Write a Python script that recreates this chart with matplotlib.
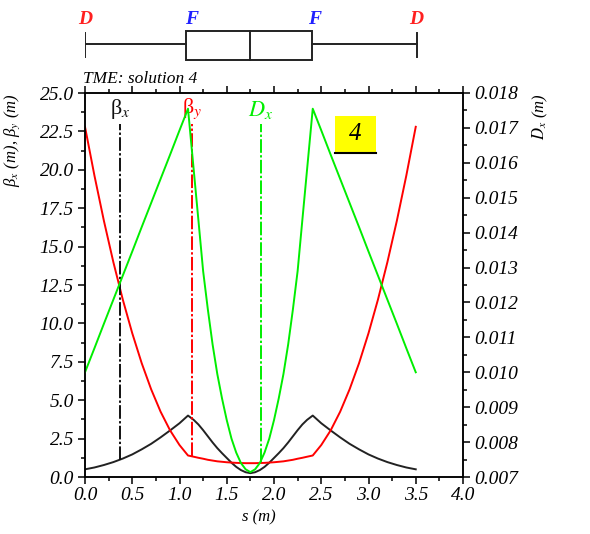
import matplotlib
matplotlib.use("Agg")
import matplotlib.pyplot as plt
from matplotlib.patches import Rectangle
from matplotlib.ticker import MultipleLocator, FormatStrFormatter

plt.rcParams["mathtext.fontset"] = "stix"
plt.rcParams["font.family"] = "Liberation Serif"
plt.rcParams["font.style"] = "italic"
plt.rcParams["font.size"] = 12

# --------------------------------------------------
# Data
# --------------------------------------------------
s = [0.0, 0.1, 0.2, 0.3, 0.4, 0.5, 0.6, 0.7, 0.8, 0.9, 1.0, 1.09,
     1.15, 1.2, 1.25, 1.3, 1.35, 1.4, 1.45, 1.5, 1.55, 1.6, 1.65, 1.7,
     1.75,
     1.8, 1.85, 1.9, 1.95, 2.0, 2.05, 2.1, 2.15, 2.2, 2.25, 2.3, 2.35,
     2.41, 2.5, 2.6, 2.7, 2.8, 2.9, 3.0, 3.1, 3.2, 3.3, 3.4, 3.5]

beta_x = [0.50, 0.62, 0.78, 0.97, 1.20, 1.47, 1.80, 2.16, 2.58, 3.03, 3.50, 4.00,
          3.72, 3.42, 3.05, 2.65, 2.25, 1.88, 1.55, 1.24, 0.93, 0.66, 0.45, 0.31,
          0.25,
          0.31, 0.45, 0.66, 0.93, 1.24, 1.55, 1.88, 2.25, 2.65, 3.05, 3.42, 3.72,
          4.00, 3.50, 3.03, 2.58, 2.16, 1.80, 1.47, 1.20, 0.97, 0.78, 0.62, 0.50]

beta_y = [22.80, 19.62, 16.68, 13.99, 11.55, 9.36, 7.41, 5.71, 4.25, 3.04, 2.08, 1.40,
          1.32, 1.25, 1.19, 1.12, 1.07, 1.02, 0.99, 0.96, 0.94, 0.92, 0.91, 0.90,
          0.90,
          0.90, 0.91, 0.92, 0.94, 0.96, 0.99, 1.02, 1.07, 1.12, 1.19, 1.25, 1.32,
          1.40, 2.08, 3.04, 4.25, 5.71, 7.41, 9.36, 11.55, 13.99, 16.68, 19.62, 22.80]

disp_x = [0.01000, 0.01069, 0.01139, 0.01208, 0.01277, 0.01346, 0.01416, 0.01485,
          0.01554, 0.01623, 0.01693, 0.01755,
          0.01581, 0.01436, 0.01290, 0.01180, 0.01080, 0.00995, 0.00925, 0.00863,
          0.00810, 0.00770, 0.00740, 0.00722,
          0.00714,
          0.00722, 0.00740, 0.00770, 0.00810, 0.00863, 0.00925, 0.00995, 0.01080,
          0.01180, 0.01290, 0.01436, 0.01581,
          0.01755, 0.01693, 0.01623, 0.01554, 0.01485, 0.01416, 0.01346, 0.01277,
          0.01208, 0.01139, 0.01069, 0.01000]

# marker lines: s position, bottom (beta units), colour
marker_s = [0.37, 1.13, 1.86]
marker_bottom = [1.1, 1.37, 0.95]
marker_labels = ["β$_x$", "β$_y$", "$D_x$"]
marker_colors = ["#111111", "#ff0000", "#00ee00"]

# lattice sketch
lattice_letters = ["D", "F", "F", "D"]
lattice_letter_s = [0.0, 1.13, 2.43, 3.51]
lattice_letter_colors = ["#ff2020", "#2020ff", "#2020ff", "#ff2020"]
box_edges = [1.07, 1.746, 2.40]
line_end = 3.51

W, H = 590, 534


def fx(px):
    return px / W


def fy(py):
    return 1 - py / H


fig = plt.figure(figsize=(5.9, 5.34), dpi=100)

# --------------------------------------------------
# Main axes
# --------------------------------------------------
ax = fig.add_axes([fx(85), fy(477), fx(463) - fx(85), fy(93) - fy(477)])
ax2 = ax.twinx()

ax.plot(s, beta_x, color="#222222", lw=1.4)
ax.plot(s, beta_y, color="#ff0000", lw=1.4)
ax2.plot(s, disp_x, color="#00ee00", lw=1.4)

for xm, yb, col in zip(marker_s, marker_bottom, marker_colors):
    ax.plot([xm, xm], [yb, 23.0], color=col, lw=1.4,
            linestyle=(0, (7, 1.2, 1.2, 1.2)))

for xm, lab, col in zip(marker_s, marker_labels, marker_colors):
    ax.text(xm, 23.2, lab, color=col, fontsize=16, ha="center", va="bottom",
            style="normal")

ax.set_xlim(0, 4.0)
ax.set_ylim(0, 25.0)
ax2.set_ylim(0.007, 0.018)

ax.xaxis.set_major_locator(MultipleLocator(0.5))
ax.xaxis.set_minor_locator(MultipleLocator(0.25))
ax.xaxis.set_major_formatter(FormatStrFormatter("%.1f"))
ax.yaxis.set_major_locator(MultipleLocator(2.5))
ax.yaxis.set_minor_locator(MultipleLocator(1.25))
ax.yaxis.set_major_formatter(FormatStrFormatter("%.1f"))
ax2.yaxis.set_major_locator(MultipleLocator(0.001))
ax2.yaxis.set_minor_locator(MultipleLocator(0.0005))
ax2.yaxis.set_major_formatter(FormatStrFormatter("%.3f"))

ax.tick_params(axis="x", which="both", direction="out", top=True, width=1.1)
ax.tick_params(axis="x", which="major", length=5, pad=2, labelsize=14)
ax.tick_params(axis="x", which="minor", length=3)
ax.tick_params(axis="y", which="major", direction="out", length=5, width=1.1, pad=3,
               labelsize=14)
ax.tick_params(axis="y", which="minor", direction="out", length=3, width=1.1)
ax2.tick_params(axis="y", which="major", direction="out", length=5, width=1.1, pad=3,
                labelsize=14)
ax2.tick_params(axis="y", which="minor", direction="out", length=3, width=1.1)

for a in (ax, ax2):
    for sp in a.spines.values():
        sp.set_linewidth(1.1)

# axis titles
fig.text(fx(12), fy(93), "β$_x$ (m), β$_y$ (m)", rotation=90, ha="center", va="top",
         fontsize=12)
fig.text(fx(540), fy(93), "$D_x$ (m)", rotation=90, ha="center", va="top",
         fontsize=12)
fig.text(fx(259), fy(517), "s (m)", ha="center", va="center", fontsize=12)
fig.text(fx(83), fy(79), "TME: solution 4", ha="left", va="center", fontsize=12.5)

# yellow solution tag
fig.patches.append(Rectangle((fx(335), fy(154)), fx(376) - fx(335), fy(116) - fy(154),
                             transform=fig.transFigure, facecolor="#ffff00",
                             edgecolor="none", zorder=5))
fig.lines.append(plt.Line2D([fx(335), fx(376)], [fy(153), fy(153)],
                            transform=fig.transFigure, color="black", lw=1.5, zorder=6))
fig.text(fx(355.5), fy(134), "4", ha="center", va="center", fontsize=18, zorder=7)

# --------------------------------------------------
# Lattice sketch on top
# --------------------------------------------------
axl = fig.add_axes([fx(85), fy(70), fx(463) - fx(85), fy(5) - fy(70)])
axl.set_xlim(0, 4.0)
axl.set_ylim(70, 5)
axl.axis("off")

axl.plot([0, box_edges[0]], [44, 44], color="#222222", lw=1.4)
axl.plot([box_edges[2], line_end], [44, 44], color="#222222", lw=1.4)
axl.plot([0, 0], [33, 57], color="#222222", lw=1.4)
axl.plot([line_end, line_end], [33, 57], color="#222222", lw=1.4)
axl.add_patch(Rectangle((box_edges[0], 31), box_edges[2] - box_edges[0], 29,
                        facecolor="white", edgecolor="#222222", lw=1.4))
axl.plot([box_edges[1], box_edges[1]], [31, 60], color="#222222", lw=1.4)

for xs, letter, col in zip(lattice_letter_s, lattice_letters, lattice_letter_colors):
    axl.text(xs, 20, letter, color=col, ha="center", va="center", fontsize=14,
             weight="bold")

fig.savefig("out.png", dpi=100)
